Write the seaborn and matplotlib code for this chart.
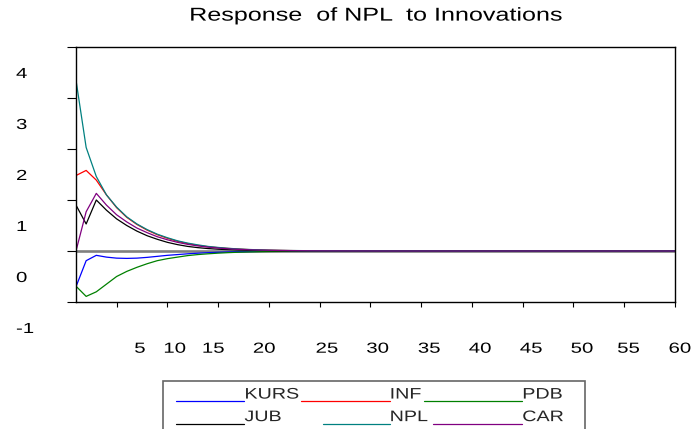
import numpy as np
import pandas as pd
import matplotlib
matplotlib.use("Agg")
import matplotlib.pyplot as plt
import matplotlib.colors as mcolors
import seaborn as sns
from matplotlib.patheffects import AbstractPathEffect
from matplotlib.transforms import Affine2D, ScaledTranslation
from matplotlib.legend_handler import HandlerLine2D
from matplotlib.lines import Line2D
from matplotlib.patches import Rectangle

# ---------------- data ----------------
periods = list(range(1, 61))
series_names = ["KURS", "INF", "PDB", "JUB", "NPL", "CAR"]

KURS = [-0.70, -0.19, -0.085, -0.12, -0.14, -0.145, -0.14, -0.125, -0.105, -0.085,
        -0.07, -0.055, -0.043, -0.033, -0.025, -0.019, -0.014, -0.011, -0.008, -0.006,
        -0.005, -0.004, -0.003, -0.002, -0.002, -0.001, -0.001, -0.001, -0.001, 0.0,
        0.0, 0.0, 0.0, 0.0, 0.0, 0.0, 0.0, 0.0, 0.0, 0.0,
        0.0, 0.0, 0.0, 0.0, 0.0, 0.0, 0.0, 0.0, 0.0, 0.0,
        0.0, 0.0, 0.0, 0.0, 0.0, 0.0, 0.0, 0.0, 0.0, 0.0]
INF = [1.48, 1.58, 1.39, 1.10, 0.85, 0.66, 0.52, 0.41, 0.32, 0.25,
       0.19, 0.145, 0.11, 0.085, 0.065, 0.05, 0.038, 0.028, 0.021, 0.016,
       0.012, 0.009, 0.007, 0.005, 0.004, 0.003, 0.003, 0.002, 0.002, 0.001,
       0.001, 0.001, 0.001, 0.0, 0.0, 0.0, 0.0, 0.0, 0.0, 0.0,
       0.0, 0.0, 0.0, 0.0, 0.0, 0.0, 0.0, 0.0, 0.0, 0.0,
       0.0, 0.0, 0.0, 0.0, 0.0, 0.0, 0.0, 0.0, 0.0, 0.0]
PDB = [-0.69, -0.89, -0.80, -0.65, -0.50, -0.40, -0.32, -0.25, -0.19, -0.15,
       -0.12, -0.09, -0.07, -0.055, -0.042, -0.032, -0.024, -0.018, -0.014, -0.010,
       -0.008, -0.006, -0.004, -0.003, -0.002, -0.002, -0.001, -0.001, -0.001, 0.0,
       0.0, 0.0, 0.0, 0.0, 0.0, 0.0, 0.0, 0.0, 0.0, 0.0,
       0.0, 0.0, 0.0, 0.0, 0.0, 0.0, 0.0, 0.0, 0.0, 0.0,
       0.0, 0.0, 0.0, 0.0, 0.0, 0.0, 0.0, 0.0, 0.0, 0.0]
JUB = [0.90, 0.53, 1.00, 0.80, 0.63, 0.50, 0.39, 0.30, 0.23, 0.17,
       0.125, 0.09, 0.066, 0.048, 0.035, 0.026, 0.019, 0.014, 0.010, 0.007,
       0.005, 0.004, 0.003, 0.002, 0.002, 0.001, 0.001, 0.001, 0.0, 0.0,
       0.0, 0.0, 0.0, 0.0, 0.0, 0.0, 0.0, 0.0, 0.0, 0.0,
       0.0, 0.0, 0.0, 0.0, 0.0, 0.0, 0.0, 0.0, 0.0, 0.0,
       0.0, 0.0, 0.0, 0.0, 0.0, 0.0, 0.0, 0.0, 0.0, 0.0]
NPL = [3.35, 2.03, 1.46, 1.10, 0.86, 0.67, 0.53, 0.42, 0.33, 0.26,
       0.20, 0.155, 0.12, 0.09, 0.07, 0.053, 0.04, 0.03, 0.023, 0.017,
       0.013, 0.010, 0.008, 0.006, 0.005, 0.004, 0.003, 0.003, 0.002, 0.002,
       0.002, 0.001, 0.001, 0.001, 0.001, 0.001, 0.001, 0.0, 0.0, 0.0,
       0.0, 0.0, 0.0, 0.0, 0.0, 0.0, 0.0, 0.0, 0.0, 0.0,
       0.0, 0.0, 0.0, 0.0, 0.0, 0.0, 0.0, 0.0, 0.0, 0.0]
CAR = [0.0, 0.77, 1.13, 0.90, 0.71, 0.57, 0.45, 0.36, 0.28, 0.22,
       0.17, 0.13, 0.10, 0.075, 0.057, 0.043, 0.032, 0.024, 0.018, 0.014,
       0.010, 0.008, 0.006, 0.004, 0.003, 0.002, 0.002, 0.001, 0.001, 0.001,
       0.0, 0.0, 0.0, 0.0, 0.0, 0.0, 0.0, 0.0, 0.0, 0.0,
       0.0, 0.0, 0.0, 0.0, 0.0, 0.0, 0.0, 0.0, 0.0, 0.0,
       0.0, 0.0, 0.0, 0.0, 0.0, 0.0, 0.0, 0.0, 0.0, 0.0]

xtick_values = [5, 10, 15, 20, 25, 30, 35, 40, 45, 50, 55, 60]
xtick_labels = ["5", "10", "15", "20", "25", "30", "35", "40", "45", "50", "55", "60"]
ytick_values = [-1, 0, 1, 2, 3, 4]
ytick_labels = ["-1", "0", "1", "2", "3", "4"]
title_text = "Response  of NPL  to Innovations"
legend_order = ["KURS", "JUB", "INF", "NPL", "PDB", "CAR"]

# ---------------- style ----------------
palette = {"KURS": "#0000FF", "INF": "#FF0000", "PDB": "#008000",
           "JUB": "#000000", "NPL": "#008080", "CAR": "#800080"}
# per-entry shift of the legend sample's start (px, + shortens, - lengthens)
legend_start_shift_px = {"KURS": 6, "JUB": 6, "INF": -14, "NPL": 8, "PDB": -23, "CAR": -14}

sns.set_style("ticks")
plt.rcParams["font.family"] = ["Liberation Sans", "DejaVu Sans"]
plt.rcParams["axes.unicode_minus"] = False


class HStretch(AbstractPathEffect):
    """Draw text glyph paths stretched horizontally (the reference font is wide)."""

    def __init__(self, sx=1.35, anchor="center"):
        super().__init__()
        self.sx = sx
        self.anchor = anchor

    def draw_path(self, renderer, gc, tpath, affine, rgbFace=None):
        if len(tpath.vertices) == 0:
            return
        ext = tpath.get_extents()
        if self.anchor == "center":
            cx = 0.5 * (ext.x0 + ext.x1)
        elif self.anchor == "left":
            cx = 0.0
        else:
            cx = ext.x1
        aff = Affine2D().translate(-cx, 0).scale(self.sx, 1.0).translate(cx, 0) + affine
        renderer.draw_path(gc, tpath, aff, rgbFace)


class BaselineLineHandler(HandlerLine2D):
    def create_artists(self, legend, orig_handle, xdescent, ydescent, width,
                       height, fontsize, trans):
        arts = super().create_artists(legend, orig_handle, xdescent, ydescent,
                                      width, height, fontsize, trans)
        for a in arts:
            a.set_ydata(np.full(len(a.get_xdata()), -0.17 * fontsize))
        return arts


df = pd.DataFrame({
    "period": periods * len(series_names),
    "response": KURS + INF + PDB + JUB + NPL + CAR,
    "shock": np.repeat(series_names, len(periods)),
})

W, H = 693, 429
fig = plt.figure(figsize=(W / 100, H / 100), dpi=100)
ax = fig.add_axes([76 / W, 1 - 302 / H, (675 - 76) / W, (302 - 47) / H])

sns.lineplot(data=df, x="period", y="response", hue="shock",
             hue_order=series_names, palette=palette, legend=False,
             estimator=None, sort=False, linewidth=0.9, ax=ax)

data_lines = list(ax.get_lines())
name_to_line = {}
for ln in data_lines:
    hx = mcolors.to_hex(ln.get_color()).lower()
    for n, c in palette.items():
        if mcolors.to_hex(c).lower() == hx:
            name_to_line[n] = ln

ax.axhline(0, color="#808080", lw=1.9, zorder=1.5)

ax.set_xlim(1, 60)
ax.set_ylim(-1, 4)
ax.set_xlabel("")
ax.set_ylabel("")
ax.set_xticks(xtick_values)
ax.set_xticklabels(xtick_labels)
ax.set_yticks(ytick_values)
ax.set_yticklabels(ytick_labels)

for sp in ax.spines.values():
    sp.set_visible(True)
    sp.set_color("black")
    sp.set_linewidth(1.0)

ax.tick_params(axis="x", direction="out", length=3.6, width=0.8, pad=25,
               labelsize=10.5, colors="black", top=False)
ax.tick_params(axis="y", direction="out", length=6.5, width=0.8, pad=36.7,
               labelsize=10.5, colors="black", right=False)

# EViews-like label placement (labels drawn offset from their ticks)
xlabel_dx_px = [23.3, 7.5, -4.8, -4.6, 7.3, 7.3, 8.0, 8.2, 8.4, 8.6, 4.3, 5.0]
for lab, dx in zip(ax.get_xticklabels(), xlabel_dx_px):
    lab.set_transform(lab.get_transform() + ScaledTranslation(dx / 100, 0, fig.dpi_scale_trans))
    lab.set_path_effects([HStretch(1.4, "center")])
for lab in ax.get_yticklabels():
    lab.set_ha("left")
    lab.set_transform(lab.get_transform() + ScaledTranslation(0, -25.5 / 100, fig.dpi_scale_trans))
    lab.set_path_effects([HStretch(1.4, "left")])

ax.set_title(title_text, fontsize=13.4, pad=19, color="black",
             path_effects=[HStretch(1.35, "center")])

leg_fs = 11
handler_map = {Line2D: BaselineLineHandler()}
for n in legend_order:
    handler_map[name_to_line[n]] = BaselineLineHandler(
        xpad=legend_start_shift_px[n] * 0.72 / leg_fs)

leg = fig.legend([name_to_line[n] for n in legend_order], legend_order,
                 loc="upper left", bbox_to_anchor=(163 / W, 1 - 381 / H),
                 bbox_transform=fig.transFigure, borderaxespad=0, ncol=3,
                 fontsize=leg_fs, handlelength=4.9, handletextpad=0,
                 columnspacing=1.84, borderpad=0.43, labelspacing=0.56,
                 frameon=False, handler_map=handler_map)
for t in leg.get_texts():
    t.set_path_effects([HStretch(1.29, "left")])

# legend box (runs past the bottom edge of the figure, as in the reference)
fig.patches.append(Rectangle((163 / W, -0.05), (585 - 163) / W, 0.05 + (429 - 381) / H,
                             transform=fig.transFigure, fill=False,
                             edgecolor="#666666", linewidth=1.2, zorder=0))

fig.savefig("out.png", dpi=100)
